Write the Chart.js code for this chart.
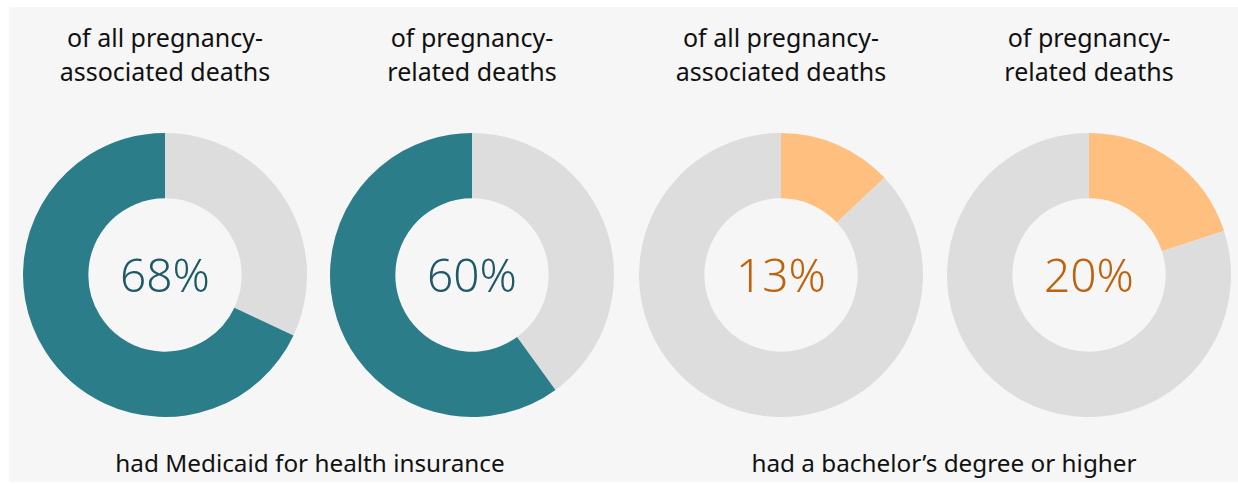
<!DOCTYPE html>
<html><head><meta charset="utf-8">
<script src="https://cdn.jsdelivr.net/npm/chart.js@4"></script>
<style>
html,body{margin:0;padding:0;background:#fff;}
#wrap{position:relative;width:1238px;height:485px;overflow:hidden;}
#panel{position:absolute;left:9px;top:7px;width:1229px;height:475px;background:#f6f6f6;}
.c{position:absolute;width:284px;height:284px;}
.t{position:absolute;width:300px;text-align:center;font-family:"Noto Sans",sans-serif;font-size:25px;line-height:34px;color:#111;}
.p{position:absolute;width:200px;text-align:center;font-family:"Noto Sans",sans-serif;font-size:46px;font-weight:300;line-height:50px;}
.cap{position:absolute;width:600px;text-align:center;font-family:"Noto Sans",sans-serif;font-size:24.3px;line-height:30px;color:#111;}
</style></head><body>
<div id="wrap"><div id="panel"></div></div>
<script>
const titles=[["of all pregnancy-","associated deaths"],["of pregnancy-","related deaths"],["of all pregnancy-","associated deaths"],["of pregnancy-","related deaths"]];
const percents=[68,60,13,20];
const groupCaptions=["had Medicaid for health insurance","had a bachelor’s degree or higher"];
const groupOf=[0,0,1,1];
const mainColors=["#2c7d8a","#ffbf7f"];
const textColors=["#1f5966","#c0620b"];
const restColor="#dddddd";
const centersX=[165,472,781,1089];
const centerY=275, R=142;
const wrap=document.getElementById('wrap');
percents.forEach((p,i)=>{
  const g=groupOf[i];
  const cv=document.createElement('canvas');
  cv.className='c';cv.style.left=(centersX[i]-R)+'px';cv.style.top=(centerY-R)+'px';
  wrap.appendChild(cv);
  const data=g===0?[100-p,p]:[p,100-p];
  const colors=g===0?[restColor,mainColors[0]]:[mainColors[1],restColor];
  new Chart(cv,{type:'doughnut',data:{labels:g===0?['other','share']:['share','other'],datasets:[{data:data,backgroundColor:colors,borderWidth:0,hoverOffset:0}]},
    options:{responsive:false,animation:false,cutout:'54%',layout:{padding:0},plugins:{legend:{display:false},tooltip:{enabled:false}}}});
  const t=document.createElement('div');t.className='t';t.style.left=(centersX[i]-150)+'px';t.style.top='20px';
  t.innerHTML=titles[i].join('<br>');wrap.appendChild(t);
  const pc=document.createElement('div');pc.className='p';pc.style.left=(centersX[i]-100)+'px';pc.style.top=(centerY-26)+'px';
  pc.style.color=textColors[g];pc.textContent=p+'%';wrap.appendChild(pc);
});
[310,944].forEach((x,k)=>{
  const c=document.createElement('div');c.className='cap';c.style.left=(x-300)+'px';c.style.top='448px';
  c.textContent=groupCaptions[k];wrap.appendChild(c);
});
</script></body></html>
